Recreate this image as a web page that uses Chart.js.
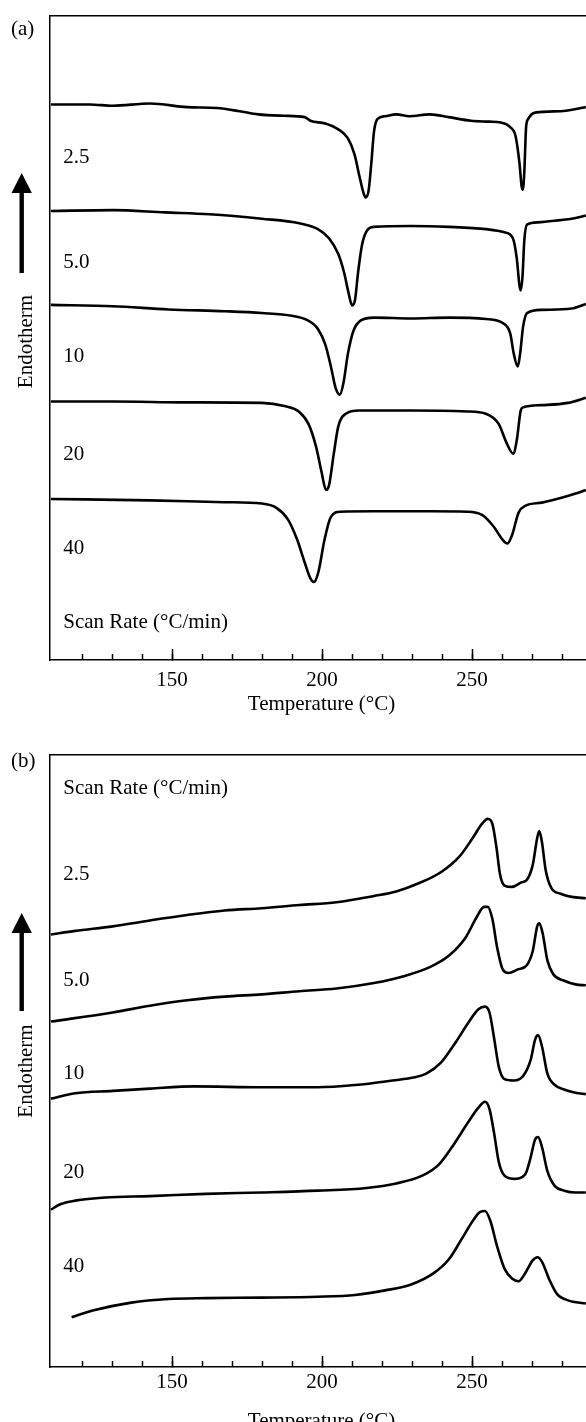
<!DOCTYPE html>
<html>
<head>
<meta charset="utf-8">
<script src="https://cdn.jsdelivr.net/npm/chart.js@4.4.1/dist/chart.umd.min.js"></script>
<style>
html, body { margin:0; padding:0; background:#fff; overflow:hidden; width:586px; height:1422px; }
canvas { position:absolute; left:0; }
#cA { top:0; }
#cB { top:730px; }
</style>
</head>
<body>
<canvas id="cA" width="593" height="730"></canvas>
<canvas id="cB" width="593" height="720"></canvas>
<script>
// scan rates (°C/min)
const rates = ['2.5', '5.0', '10', '20', '40'];
const scanLabel = 'Scan Rate (°C/min)';

// panel (a) cooling traces: temperature (°C) / heat flow (a.u., offset)
const tempA25 = [109.6,122.7,130.2,142.6,155.0,165.0,172.5,178.7,187.4,194.2,196.1,201.1,205.4,208.6,210.8,212.5,213.8,214.5,215.5,216.4,217.3,218.5,221.0,224.7,229.1,235.9,242.2,249.6,255.8,259.6,262.7,264.5,265.8,266.5,266.9,267.4,268.0,268.7,271.0,279.5,287.9];
const flowA25 = [122.5,122.5,122.2,122.7,121.9,121.7,121.0,120.3,120.0,119.7,118.9,118.3,117.0,115.0,111.5,106.5,103.0,102.0,103.5,109.5,116.5,119.3,119.9,120.3,119.9,120.3,119.7,118.9,118.7,118.5,117.5,115.5,109.5,104.5,103.7,107.5,117.5,119.3,120.7,121.0,121.9];
const tempA50 = [109.6,130.2,147.6,162.5,179.9,192.4,198.6,202.3,205.4,207.3,208.8,210.0,211.0,212.0,213.3,214.8,217.3,229.7,242.2,254.6,260.8,263.6,264.9,265.8,266.2,266.8,267.4,268.3,272.0,279.5,283.2,287.9];
const flowA50 = [99.0,99.2,98.7,98.3,97.3,96.3,95.0,93.0,89.5,85.5,81.0,78.2,79.5,85.5,91.5,94.5,95.5,95.7,95.5,95.0,94.3,93.0,88.5,82.5,81.5,84.5,92.5,96.0,96.5,97.0,97.3,98.0];
const tempA10 = [109.6,130.2,148.8,167.5,179.9,189.9,194.9,198.6,201.1,203.0,204.5,205.9,207.1,208.6,210.4,212.9,217.3,229.7,242.2,254.6,260.2,262.7,263.9,265.2,266.0,267.0,268.3,273.3,283.2,287.9];
const flowA10 = [78.3,78.0,77.3,76.9,76.5,75.9,75.0,73.0,69.5,64.5,60.0,58.5,61.0,67.5,72.5,74.9,75.5,75.3,75.5,75.2,74.3,72.0,67.5,64.7,67.5,73.5,76.5,77.2,77.5,78.5];
const tempA20 = [109.6,130.2,155.0,179.9,187.4,192.4,195.5,198.0,199.8,201.3,202.3,203.9,205.4,207.9,212.3,229.7,248.4,254.6,258.9,261.4,263.7,264.9,266.2,267.0,273.3,282.0,287.9];
const flowA20 = [57.0,57.0,56.8,56.7,56.0,54.7,52.0,47.0,41.5,37.5,38.5,45.5,51.5,54.3,55.0,55.0,54.8,54.3,52.0,48.0,45.5,48.5,55.0,55.7,56.2,56.7,57.8];
const tempA40 = [109.6,142.6,167.5,179.9,184.9,188.6,191.7,194.2,196.1,197.3,198.8,200.8,202.9,206.1,217.3,235.9,248.4,253.3,257.1,260.2,261.8,263.3,265.5,267.7,273.3,279.5,284.5,287.9];
const flowA40 = [35.5,35.2,34.8,34.5,33.5,31.0,26.5,21.5,18.0,17.2,19.5,26.5,31.5,32.7,32.8,32.8,32.7,32.0,29.5,26.5,25.7,27.5,32.5,34.0,34.7,35.7,36.7,37.5];

// panel (b) heating traces
const tempB25 = [109.6,117.7,130.2,142.6,155.0,167.5,179.9,192.4,204.8,217.3,224.7,232.2,239.7,245.9,250.2,253.4,255.2,256.8,258.1,259.3,260.8,263.3,266.4,268.3,270.2,271.7,272.4,273.3,274.5,276.4,279.5,283.2,287.9];
const flowB25 = [95.4,96.2,97.2,98.5,99.7,100.7,101.2,101.9,102.5,103.9,104.9,106.7,109.2,112.7,116.7,119.9,120.9,119.7,114.7,108.7,106.2,105.9,106.9,107.5,110.7,116.7,118.2,115.7,109.7,105.7,104.4,103.7,103.4];
const tempB50 = [109.6,130.2,142.6,155.0,167.5,179.9,192.4,204.8,217.3,227.2,235.9,242.2,247.8,251.5,254.0,255.2,256.8,258.3,260.2,262.1,265.2,268.3,270.2,271.7,272.4,273.5,275.1,277.0,280.7,284.5,287.9];
const flowB50 = [76.2,78.2,79.7,80.9,81.7,82.2,82.9,83.5,84.7,86.2,88.2,90.7,94.7,99.2,101.5,101.5,98.7,92.7,87.7,86.9,87.7,88.7,91.7,97.2,97.9,95.7,89.7,86.7,85.2,84.4,84.2];
const tempB10 = [109.6,117.7,130.2,142.6,157.5,179.9,198.6,211.0,223.5,230.9,234.7,239.7,244.6,249.0,252.1,254.3,255.8,257.3,258.9,260.8,263.9,267.0,269.5,271.0,272.0,273.3,275.1,277.6,280.7,284.5,287.9];
const flowB10 = [59.2,60.4,60.9,61.4,61.9,61.7,61.7,62.2,63.2,63.9,64.7,67.2,71.7,76.2,78.9,79.5,78.2,72.7,66.2,63.5,63.2,64.2,67.7,72.2,73.2,70.7,64.7,62.2,61.2,60.5,60.2];
const tempB20 = [109.6,112.7,117.7,127.7,142.6,161.3,179.9,198.6,214.8,224.7,233.4,239.0,244.0,248.4,252.1,254.3,255.8,257.3,258.9,260.8,263.9,267.7,269.5,271.0,272.0,273.3,275.1,277.6,280.7,284.5,287.9];
const flowB20 = [34.7,35.9,36.7,37.4,37.7,38.2,38.5,38.9,39.5,40.5,42.2,44.7,49.2,53.7,57.2,58.5,56.9,51.7,45.2,42.2,41.5,42.5,46.2,50.2,50.7,48.5,43.2,39.9,38.9,38.5,38.5];
const tempB40 = [116.5,123.9,136.4,148.8,161.3,179.9,198.6,211.0,221.0,229.7,237.2,242.2,246.5,250.2,252.7,254.3,256.1,258.3,260.8,263.3,265.5,267.7,270.2,271.8,273.3,275.8,278.2,282.0,287.9];
const flowB40 = [11.0,12.5,14.2,15.0,15.2,15.3,15.5,15.9,16.9,18.2,20.7,23.7,28.2,32.2,34.2,34.4,32.2,26.7,21.7,19.5,18.9,20.7,23.5,24.2,23.2,19.2,16.2,14.7,14.0];

// where the rate labels sit (temperature / heat flow)
const labelTemp = 113.7;
const labelFlowA = [110.9, 87.7, 67.0, 45.4, 24.5];
const scanFlowA = 8.2;
const labelFlowB = [108.6, 85.3, 64.7, 42.8, 22.1];
const scanFlowB = 127.7;

const tMin = 109.3, tMax = 290.3;
const serif = "'Liberation Serif', 'Times New Roman', serif";
Chart.defaults.color = '#000';
Chart.defaults.font.family = serif;

const deco = {
  id: 'deco',
  afterDraw(chart, args, o) {
    const c = chart.ctx, xs = chart.scales.x, ys = chart.scales.y;
    c.save();
    c.fillStyle = '#000';
    c.font = '21px ' + serif;
    c.textAlign = 'left';
    c.textBaseline = 'middle';
    c.fillText(o.tag, 11, o.tagY);
    const lx = xs.getPixelForValue(labelTemp);
    rates.forEach((r, i) => c.fillText(r, lx, ys.getPixelForValue(o.flows[i])));
    c.fillText(scanLabel, lx, ys.getPixelForValue(o.scan));
    // arrow
    c.fillRect(19.5, o.head - 1, 4.4, o.end - o.head + 1);
    c.beginPath();
    c.moveTo(21.7, o.tip);
    c.lineTo(31.9, o.head);
    c.lineTo(11.5, o.head);
    c.closePath();
    c.fill();
    c.translate(31.5, o.endoY);
    c.rotate(-Math.PI / 2);
    c.textAlign = 'center';
    c.textBaseline = 'alphabetic';
    c.fillText('Endotherm', 0, 0);
    c.restore();
  }
};

function makeChart(id, sets, yMax, d) {
  const datasets = sets.map(s => ({
    data: s[0].map((t, i) => ({x: t, y: s[1][i]})),
    borderColor: '#000',
    borderWidth: 2.6,
    pointRadius: 0,
    cubicInterpolationMode: 'monotone',
    fill: false,
    xAxisID: 'x',
    yAxisID: 'y'
  }));
  return new Chart(document.getElementById(id).getContext('2d'), {
    type: 'line',
    data: {datasets: datasets},
    options: {
      responsive: false,
      animation: false,
      devicePixelRatio: 1,
      layout: {padding: {left: 0, right: 0, top: d.padTop, bottom: 0}},
      plugins: {legend: {display: false}, tooltip: {enabled: false}, deco: d.deco},
      scales: {
        x: {
          type: 'linear', position: 'bottom', weight: 1, min: tMin, max: tMax,
          ticks: {stepSize: 50, includeBounds: false, padding: d.tickPad, maxRotation: 0, autoSkip: false,
                  font: {family: serif, size: 21}},
          grid: {drawOnChartArea: false, color: '#000', tickLength: -11, tickWidth: 1.5},
          border: {display: true, color: '#000', width: 1.5},
          title: {display: true, text: 'Temperature (°C)', font: {family: serif, size: 21},
                  padding: {top: 0, bottom: d.titlePad}},
          afterFit: s => { s.height = d.axisH; }
        },
        xm: {
          type: 'linear', position: 'bottom', weight: 0, min: tMin, max: tMax,
          ticks: {stepSize: 10, includeBounds: false, display: false},
          grid: {drawOnChartArea: false, tickLength: -6, tickWidth: 1.5,
                 tickColor: ctx => (ctx.tick && ctx.tick.value < 115) ? 'rgba(0,0,0,0)' : '#000'},
          border: {display: false},
          afterFit: s => { s.height = 0; }
        },
        xt: {
          type: 'linear', position: 'top', min: tMin, max: tMax,
          ticks: {display: false},
          grid: {display: false},
          border: {display: true, color: '#000', width: 1.5},
          afterFit: s => { s.height = 0; }
        },
        y: {
          type: 'linear', position: 'left', min: 0, max: yMax,
          ticks: {display: false},
          grid: {display: false},
          border: {display: true, color: '#000', width: 1.5},
          afterFit: s => { s.width = 50; }
        }
      }
    },
    plugins: [deco]
  });
}

makeChart('cA', [[tempA25, flowA25], [tempA50, flowA50], [tempA10, flowA10], [tempA20, flowA20], [tempA40, flowA40]], 142, {
  padTop: 16, axisH: 70, tickPad: 18.4, titlePad: 13.4,
  deco: {tag: '(a)', tagY: 29, flows: labelFlowA, scan: scanFlowA, tip: 173, head: 193, end: 273, endoY: 341.5}
});

makeChart('cB', [[tempB25, flowB25], [tempB50, flowB50], [tempB10, flowB10], [tempB20, flowB20], [tempB40, flowB40]], 135, {
  padTop: 25, axisH: 83, tickPad: 13.9, titlePad: 16.4,
  deco: {tag: '(b)', tagY: 31, flows: labelFlowB, scan: scanFlowB, tip: 183, head: 203, end: 281, endoY: 341}
});
</script>
</body>
</html>
